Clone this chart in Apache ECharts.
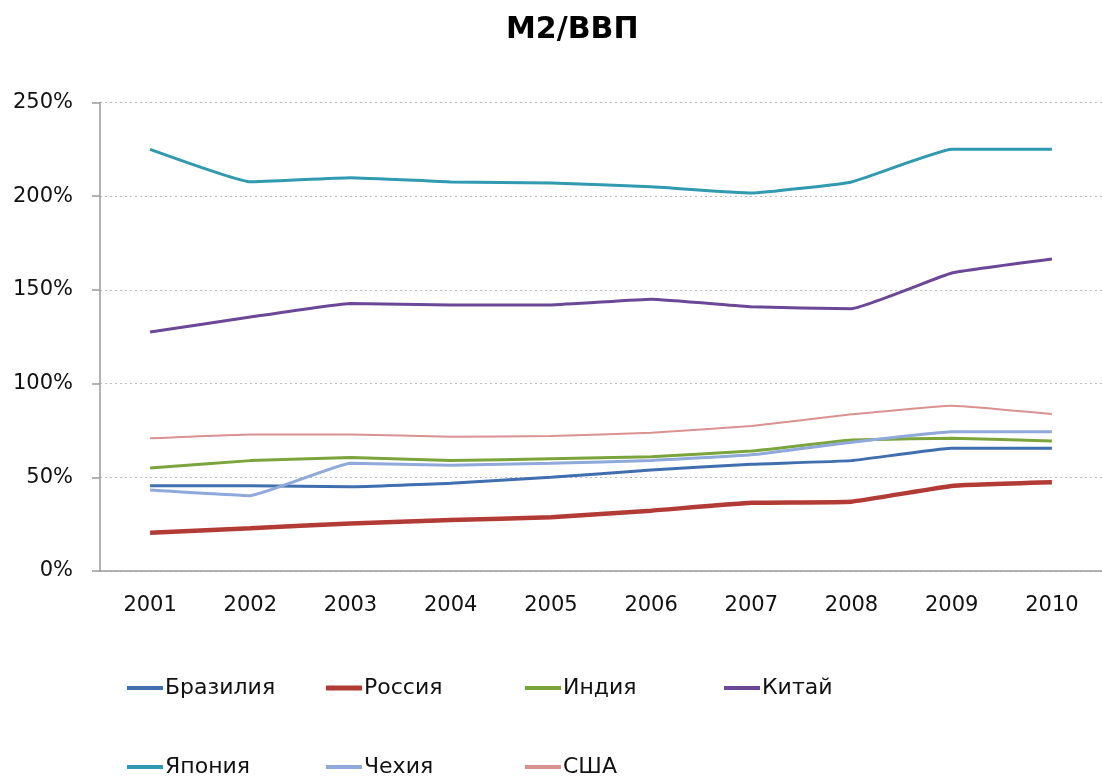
<!DOCTYPE html>
<html>
<head>
<meta charset="utf-8">
<script src="https://cdn.jsdelivr.net/npm/echarts@6/dist/echarts.min.js"></script>
<style>
  html, body { margin: 0; padding: 0; background: #fff; }
  #main { width: 1102px; height: 776px; }
</style>
</head>
<body>
<div id="main"></div>
<script>
// годы по оси X
var years = ['2001', '2002', '2003', '2004', '2005', '2006', '2007', '2008', '2009', '2010']
var yTicks = [0, 50, 100, 150, 200, 250]

// M2 к ВВП, %
var brazil = [45.5, 45.5, 45, 46.8, 50, 53.9, 57, 58.9, 65.5, 65.5]
var russia = [20.4, 22.8, 25.4, 27.2, 28.7, 32.2, 36.4, 37, 45.4, 47.3]
var india = [55, 58.9, 60.5, 58.9, 59.9, 61, 64, 69.9, 70.8, 69.4]
var china = [127.5, 135.5, 142.8, 142, 142, 145, 141, 140, 159, 166.5]
var japan = [225, 207.7, 209.9, 207.6, 207, 205, 201.7, 207.6, 225, 225]
var czech = [43.2, 40.2, 57.5, 56.4, 57.5, 59, 62, 68.7, 74.3, 74.3]
var usa = [70.8, 72.9, 72.9, 71.7, 72, 73.8, 77.4, 83.6, 88.2, 83.8]

var names = ['Бразилия', 'Россия', 'Индия', 'Китай', 'Япония', 'Чехия', 'США']
var values = [brazil, russia, india, china, japan, czech, usa]
var colors = ['#3f6fae', '#b23b36', '#7ba53b', '#6b4897', '#2f9ab0', '#8ea9da', '#d9928f']
var widths = [3, 4.5, 3, 3, 3, 3, 2]

var font = 'DejaVu Sans'

var series = names.map(function (n, i) {
    return {
        name: n,
        type: 'line',
        data: values[i],
        smooth: 0.1,
        showSymbol: false,
        lineStyle: { color: colors[i], width: widths[i] },
        itemStyle: { color: colors[i] }
    }
})

// легенда: по 4 в ряд, шаг 199px
var legends = names.map(function (n, i) {
    return {
        data: [n],
        left: 122 + (i % 4) * 199,
        top: i < 4 ? 672 : 751,
        icon: 'rect',
        itemWidth: 36,
        itemHeight: i == 1 ? 5 : 4,
        textStyle: { fontFamily: font, fontSize: 22, color: '#111', padding: [0, 0, 0, -3] }
    }
})

var myChart = echarts.init(document.getElementById('main'))
var option = {
    animation: false,
    backgroundColor: '#fff',
    title: {
        text: 'М2/ВВП',
        left: 501,
        top: 10,
        textStyle: { fontFamily: font, fontSize: 30, fontWeight: 'bold', color: '#000' }
    },
    legend: legends,
    grid: { left: 100, top: 102.5, width: 1007, height: 468.5, containLabel: false },
    xAxis: {
        type: 'category',
        data: years,
        boundaryGap: true,
        axisLine: { lineStyle: { color: '#9a9a9a', width: 1.5 } },
        axisTick: { length: 10, lineStyle: { color: '#9a9a9a', width: 1.5 } },
        axisLabel: { margin: 24, fontFamily: font, fontSize: 21, color: '#111' }
    },
    yAxis: {
        type: 'value',
        min: yTicks[0],
        max: yTicks[yTicks.length - 1],
        interval: 50,
        axisLine: { show: true, lineStyle: { color: '#9a9a9a', width: 1.5 } },
        axisTick: { show: true, length: 8, lineStyle: { color: '#9a9a9a', width: 1.5 } },
        axisLabel: { margin: 27, fontFamily: font, fontSize: 21, color: '#111', formatter: '{value}%' },
        splitLine: { lineStyle: { color: '#bdbdbd', width: 1, type: [2, 3] } }
    },
    series: series
}
myChart.setOption(option)
</script>
</body>
</html>
